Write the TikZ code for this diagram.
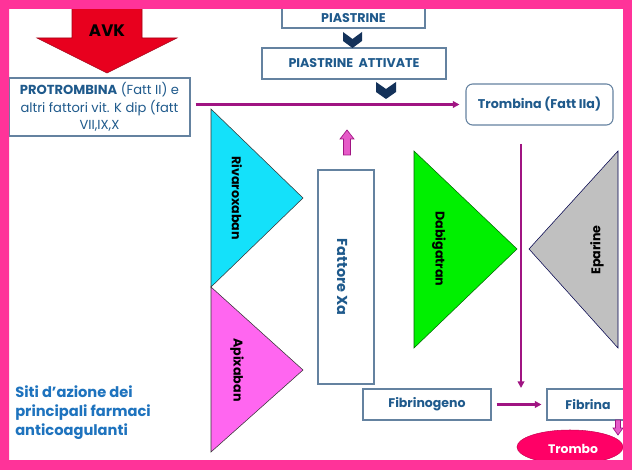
\documentclass[tikz,border=0pt]{standalone}
\usepackage{fontspec}
\setmainfont{Poppins}
\usetikzlibrary{arrows.meta,shapes.geometric}
\definecolor{framec}{RGB}{255,51,153}
\definecolor{tblue}{RGB}{31,90,140}
\definecolor{sblue}{RGB}{30,115,190}
\definecolor{boxc}{RGB}{100,130,160}
\definecolor{magl}{RGB}{160,20,130}
\definecolor{avkred}{RGB}{232,0,30}
\definecolor{navy}{RGB}{20,50,90}
\definecolor{cyanc}{RGB}{20,225,250}
\definecolor{apic}{RGB}{255,102,240}
\definecolor{greenc}{RGB}{0,240,0}
\definecolor{greyc}{RGB}{192,192,192}
\definecolor{trombc}{RGB}{255,0,102}
\definecolor{uparr}{RGB}{230,90,200}
\begin{document}
\begin{tikzpicture}[x=0.75pt,y=-0.75pt,
  box/.style={draw=boxc, line width=0.8pt, fill=white, inner sep=0pt, text=tblue,
    font=\bfseries\fontsize{9.4}{11}\selectfont},
  tritext/.style={inner sep=0pt, text=black, font=\bfseries\fontsize{9.5}{11}\selectfont},
  magline/.style={draw=magl, line width=1.6pt, -{Triangle[length=5pt,width=5pt]}},
  chev/.style={fill=navy},
  blockarr/.style={fill=uparr, draw=magl, line width=0.5pt}]
\useasboundingbox (0,0) rectangle (632,470);
\fill[white] (0,0) rectangle (632,470);
% AVK arrow
\path[fill=avkred, draw=avkred!70!black, line width=0.4pt]
  (72,0) -- (142,0) -- (142,38) -- (177,38) -- (107,73) -- (37,38) -- (72,38) -- cycle;
\node[inner sep=0pt, font=\bfseries\fontsize{12.5}{14}\selectfont] (avk) at (107,31) {AVK};
% boxes
\node[box, minimum width={181*0.75pt}, minimum height={58*0.75pt}, align=center,
  font=\fontsize{9.8}{13}\selectfont] (prot) at (99.5,107)
  {\textbf{PROTROMBINA} (Fatt II) e\\altri fattori vit. K dip (fatt\\VII,IX,X};
\node[box, minimum width={143*0.75pt}, minimum height={22*0.75pt}] (piast) at (353.5,17) {};
\node[inner sep=0pt, text=tblue, font=\bfseries\fontsize{9.5}{11}\selectfont] (piasttxt) at (353.5,18.5) {PIASTRINE};
\node[box, minimum width={184*0.75pt}, minimum height={31*0.75pt}, font=\bfseries\fontsize{9.5}{11}\selectfont] (piastatt) at (354,63.5) {PIASTRINE\ \ ATTIVATE};
\node[box, rounded corners=5pt, minimum width={147*0.75pt}, minimum height={41*0.75pt},
  font=\bfseries\fontsize{9.5}{11}\selectfont] (tromb) at (539.5,104.5) {Trombina (Fatt IIa)};
\node[box, minimum width={56*0.75pt}, minimum height={214*0.75pt}] (fattxa) at (346,277) {};
\node[inner sep=0pt, text=tblue, rotate=-90, font=\bfseries\fontsize{10.8}{12}\selectfont] (fattxatxt) at (342,277) {Fattore Xa};
\node[box, minimum width={128*0.75pt}, minimum height={31*0.75pt}] (fibrinog) at (427,404.5) {Fibrinogeno};
\node[box, minimum width={82*0.75pt}, minimum height={31*0.75pt}] (fibrina) at (588,404.5) {Fibrina};
% chevrons
\fill[chev] (343,32) -- (352.5,39) -- (362,32) -- (362,41) -- (352.5,48) -- (343,41) -- cycle;
\fill[chev] (376,82) -- (386,89) -- (396,82) -- (396,92) -- (386,99) -- (376,92) -- cycle;
% triangles
\path[fill=cyanc, draw=black!80, line width=0.4pt] (211,109) -- (303,198) -- (211,287) -- cycle;
\node[tritext, rotate=-90] (riva) at (237,198) {Rivaroxaban};
\path[fill=apic, draw=black!80, line width=0.4pt] (211,287) -- (303,370) -- (211,452) -- cycle;
\node[tritext, rotate=-90] (apix) at (237,370) {Apixaban};
\path[fill=greenc, draw=green!40!black, line width=0.4pt] (414,151) -- (517,249) -- (414,348) -- cycle;
\node[tritext, rotate=-90] (dabi) at (439,249) {Dabigatran};
\path[fill=greyc, draw=black!70!blue, line width=0.4pt] (618,151) -- (529,249) -- (618,348) -- cycle;
\node[tritext, rotate=90] (epar) at (597,250) {Eparine};
% connectors
\draw[magline] ([xshift={5*0.75pt}]prot.east |- tromb.west) -- ([xshift={-6*0.75pt}]tromb.west);
\coordinate (vtop) at (521,144);
\coordinate (vbot) at (521,388);
\draw[magline] (vtop) -- (vbot);
\draw[magline, shorten <={5*0.75pt}, shorten >={5*0.75pt}] (fibrinog.east) -- (fibrina.west);
% small block arrows
\path[blockarr] (347,130) -- (354,139) -- (350.5,139) -- (350.5,155) -- (343.5,155) -- (343.5,139) -- (340,139) -- cycle;
\path[blockarr] (618,435) -- (623,428) -- (620.5,428) -- (620.5,420) -- (615.5,420) -- (615.5,428) -- (613,428) -- cycle;
% trombo
\node[ellipse, fill=trombc, draw=trombc!80!black, line width=0.4pt, inner sep=0pt,
  minimum width={106*0.75pt}, minimum height={34*0.75pt}] (trombo) at (570,447) {};
\node[inner sep=0pt, text=white, font=\bfseries\fontsize{9.3}{11}\selectfont] (trombotxt) at (573,449) {Trombo};
% caption
\node[anchor=north west, inner sep=0pt, align=left, text=sblue,
  font=\bfseries\fontsize{11}{14.6}\selectfont] (siti) at (15,385)
  {Siti d’azione dei\\principali farmaci\\anticoagulanti};
% frame
\fill[framec, even odd rule] (0,0) rectangle (632,470) (9,9) rectangle (623,460);
\end{tikzpicture}
\end{document}
